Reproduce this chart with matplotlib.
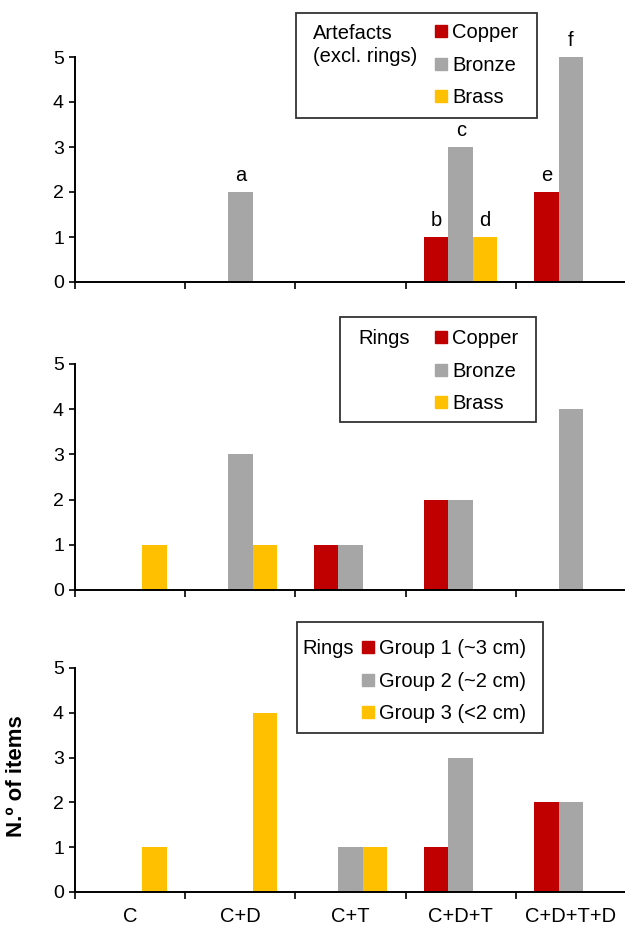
import numpy as np
import matplotlib
matplotlib.use("Agg")
import matplotlib.pyplot as plt
from matplotlib.lines import Line2D
from matplotlib.patches import Rectangle

plt.rcParams['font.family'] = ['Liberation Sans', 'DejaVu Sans']

cats = ["C", "C+D", "C+T", "C+D+T", "C+D+T+D"]

# artefacts (excl. rings)
art_copper = [0, 0, 0, 1, 2]
art_bronze = [0, 2, 0, 3, 5]
art_brass = [0, 0, 0, 1, 0]
art_letters_copper = ["", "", "", "b", "e"]
art_letters_bronze = ["", "a", "", "c", "f"]
art_letters_brass = ["", "", "", "d", ""]

# rings by alloy
ring_copper = [0, 0, 1, 2, 0]
ring_bronze = [0, 3, 1, 2, 4]
ring_brass = [1, 1, 0, 0, 0]

# rings by size group
grp1 = [0, 0, 0, 1, 2]
grp2 = [0, 0, 1, 3, 2]
grp3 = [1, 4, 1, 0, 0]

alloy_labels = ["Copper", "Bronze", "Brass"]
group_labels = ["Group 1 (~3 cm)", "Group 2 (~2 cm)", "Group 3 (<2 cm)"]
colors = ["#C00000", "#A6A6A6", "#FFC000"]

FS = 14.5
W, H = 625, 927
fig = plt.figure(figsize=(W / 100, H / 100), dpi=100)


def fx(px):
    return px / W


def fy(py):
    return 1 - py / H


x = np.arange(len(cats))
bw = 0.222
offs = [-bw, 0, bw]


def panel(y0, y1, series, letters=None, show_labels=False):
    ax = fig.add_axes([fx(75), fy(y1), fx(626) - fx(75), fy(y0) - fy(y1)])
    for i, vals in enumerate(series):
        bars = ax.bar(x + offs[i], vals, width=bw, color=colors[i], zorder=2)
        if letters is not None:
            for b, lab in zip(bars, letters[i]):
                if lab:
                    ax.annotate(lab, (b.get_x() + b.get_width() / 2, b.get_height()),
                                xytext=(0, 5), textcoords="offset points",
                                ha="center", va="bottom", fontsize=FS)
    ax.set_xlim(-0.5, 4.5)
    ax.set_ylim(0, 5)
    ax.set_yticks(range(6))
    ax.tick_params(axis="y", direction="out", length=4, width=1.2, labelsize=14, pad=4)
    ax.set_xticks(np.arange(-0.5, 4.6, 1))
    ax.set_xticklabels([])
    ax.tick_params(axis="x", which="major", direction="out", length=5, width=1.2)
    ax.set_xticks(x, minor=True)
    if show_labels:
        ax.set_xticklabels(cats, minor=True, fontsize=FS)
    ax.tick_params(axis="x", which="minor", length=0, pad=11)
    for s in ["top", "right"]:
        ax.spines[s].set_visible(False)
    for s in ["left", "bottom"]:
        ax.spines[s].set_linewidth(1.4)
    return ax


def legend_box(x0, y0, x1, y1, title, title_x, title_y, labels, hx, row_y):
    fig.patches.append(Rectangle((fx(x0), fy(y1)), fx(x1) - fx(x0), fy(y0) - fy(y1),
                                 transform=fig.transFigure, fill=False,
                                 edgecolor="#333333", linewidth=1.3, zorder=5))
    fig.text(fx(title_x), fy(title_y), title, ha="left", va="center",
             fontsize=FS, linespacing=1.25)
    handles = [Line2D([], [], marker="s", linestyle="none", markersize=8,
                      markerfacecolor=c, markeredgecolor=c) for c in colors]
    leg = fig.legend(handles, labels, loc="upper left",
                     bbox_to_anchor=(fx(hx), fy(row_y - 12)),
                     frameon=False, fontsize=FS, handlelength=0.6,
                     handletextpad=0.25, labelspacing=0.68,
                     borderpad=0, borderaxespad=0)
    return leg


panel(57, 282, [art_copper, art_bronze, art_brass],
      letters=[art_letters_copper, art_letters_bronze, art_letters_brass])
panel(364, 590, [ring_copper, ring_bronze, ring_brass])
panel(668, 892, [grp1, grp2, grp3], show_labels=True)

legend_box(296, 13, 537, 118, "Artefacts\n(excl. rings)", 313, 45,
           alloy_labels, 435, 35)
legend_box(340, 317, 536, 422, "Rings", 358, 339, alloy_labels, 435, 341)
legend_box(297, 622, 543, 733, "Rings", 302, 648, group_labels, 362, 651)

fig.text(fx(17), fy(776), "N.º of items", rotation=90, ha="center", va="center",
         fontsize=16, fontweight="bold")

fig.savefig("out.png", dpi=100)
